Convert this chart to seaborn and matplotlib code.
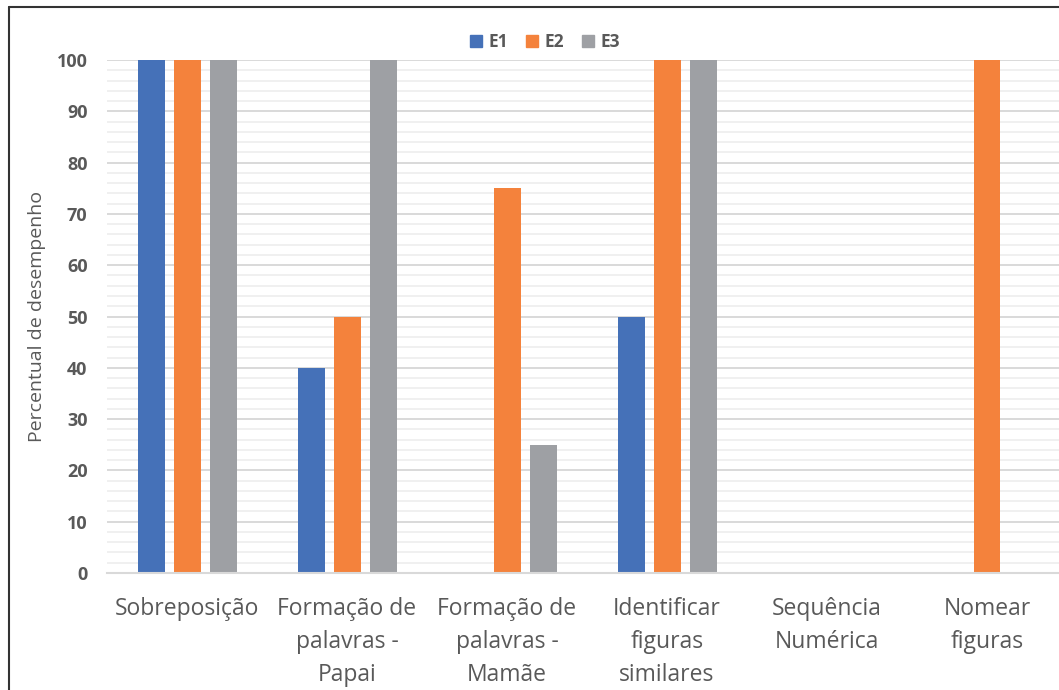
import pandas as pd
import matplotlib.pyplot as plt
import seaborn as sns
from matplotlib.lines import Line2D
from matplotlib.ticker import MultipleLocator, FixedLocator

categorias = [
    "Sobreposição",
    "Formação de\npalavras -\nPapai",
    "Formação de\npalavras -\nMamãe",
    "Identificar\nfiguras\nsimilares",
    "Sequência\nNumérica",
    "Nomear\nfiguras",
]
series = ["E1", "E2", "E3"]
e1 = [100, 40, 0, 50, 0, 0]
e2 = [100, 50, 75, 100, 0, 100]
e3 = [100, 100, 25, 100, 0, 0]
cores = ["#4571B8", "#F4823C", "#9EA0A4"]

df = pd.DataFrame({
    "categoria": categorias * 3,
    "serie": ["E1"] * 6 + ["E2"] * 6 + ["E3"] * 6,
    "valor": e1 + e2 + e3,
})

sns.set_style("white")
plt.rcParams["font.family"] = ["Open Sans", "DejaVu Sans"]

fig = plt.figure(figsize=(10.59, 6.9), dpi=100)
ax = fig.add_axes([107 / 1059, 117 / 690, 960 / 1059, 513 / 690])

sns.barplot(data=df, x="categoria", y="valor", hue="serie", order=categorias,
            hue_order=series, palette=cores, width=0.675, gap=0.25,
            saturation=1, linewidth=0, ax=ax, legend=False)

ax.set_xlim(-0.5, 5.5)
ax.set_ylim(0, 100)
ax.yaxis.set_major_locator(MultipleLocator(10))
ax.yaxis.set_minor_locator(MultipleLocator(2))
ax.grid(axis="y", which="major", color="#D9D9D9", linewidth=1.4)
ax.grid(axis="y", which="minor", color="#F0F0F0", linewidth=1.4)
ax.set_axisbelow(True)

for s in ["top", "right", "left"]:
    ax.spines[s].set_visible(False)
ax.spines["bottom"].set_color("#D9D9D9")
ax.spines["bottom"].set_linewidth(1.5)

ax.tick_params(axis="y", which="both", length=0, pad=14, labelsize=13,
               labelcolor="#595959")
for t in ax.get_yticklabels():
    t.set_fontweight("bold")
ax.tick_params(axis="x", which="major", length=0, pad=17, labelsize=16.5,
               labelcolor="#595959")
ax.xaxis.set_minor_locator(FixedLocator([-0.5, 0.5, 1.5, 2.5, 3.5, 4.5]))
ax.tick_params(axis="x", which="minor", length=7, width=1.5, color="#D9D9D9")
for t in ax.get_xticklabels():
    t.set_linespacing(1.5)

ax.set_xlabel("")
ax.set_ylabel("Percentual de desempenho", fontsize=14, color="#595959",
              labelpad=8)

handles = [Line2D([], [], marker="s", linestyle="", color=c, markersize=8)
           for c in cores]
fig.legend(handles, series, loc="center", bbox_to_anchor=(543 / 1059, 1 - 42 / 690),
           ncol=3, frameon=False, handletextpad=0.1, columnspacing=0.8,
           handlelength=1.2, prop={"weight": "bold", "size": 12.5},
           labelcolor="#595959")

# moldura do gráfico (recortada à direita e embaixo)
fig.add_artist(Line2D([9 / 1059, 9 / 1059], [0, 1 - 7 / 690], color="#333333",
                      linewidth=1.5, transform=fig.transFigure))
fig.add_artist(Line2D([9 / 1059, 1], [1 - 7 / 690, 1 - 7 / 690], color="#333333",
                      linewidth=1.5, transform=fig.transFigure))

fig.savefig("out.png", dpi=100)
